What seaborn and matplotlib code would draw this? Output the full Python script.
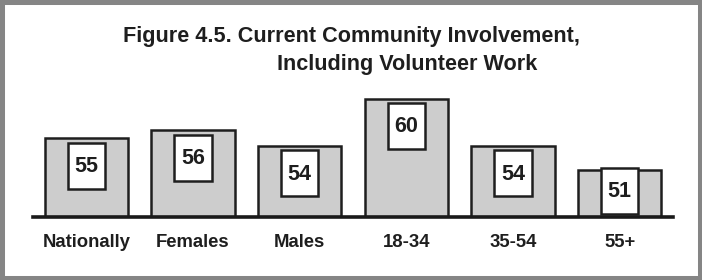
import matplotlib
matplotlib.use("Agg")
import matplotlib.pyplot as plt
from matplotlib.patches import Rectangle
import seaborn as sns

# Data
categories = ["Nationally", "Females", "Males", "18-34", "35-54", "55+"]
values = [55, 56, 54, 60, 54, 51]

TITLE_1 = "Figure 4.5. Current Community Involvement,"
TITLE_2 = "Including Volunteer Work"

DARK = "#1e1e1e"
BAR_FILL = "#cdcdcd"
BORDER = "#858585"

sns.set_style("white")
plt.rcParams["font.family"] = ["Liberation Sans", "DejaVu Sans"]

fig = plt.figure(figsize=(7.02, 2.80), dpi=100)
# axes placed in pixels: left 33, right 673, baseline at y=217, top at y=90
W, H = 702, 280
ax = fig.add_axes([33 / W, (H - 217) / H, 640 / W, 127 / H])

sns.barplot(x=categories, y=values, ax=ax, color=BAR_FILL, width=0.78,
            edgecolor=DARK, linewidth=1.8, saturation=1)

y_low = 45
px_per_unit = 7.9
ax.set_ylim(y_low, y_low + 127 / px_per_unit)
ax.set_xlim(-0.5, 5.5)

# white value boxes inside the bars
box_w = 37 / 106.5
box_h = 46 / px_per_unit
gap = 4.5 / px_per_unit
min_bottom = y_low + 3 / px_per_unit
for i, v in enumerate(values):
    bottom = max(v - gap - box_h, min_bottom)
    ax.add_patch(Rectangle((i - box_w / 2, bottom), box_w, box_h,
                           facecolor="white", edgecolor=DARK, linewidth=1.8,
                           zorder=5))
    ax.text(i, bottom + box_h / 2 - 0.1, str(v), ha="center", va="center",
            fontsize=15.5, fontweight="bold", color=DARK, zorder=6)

for side in ["top", "left", "right"]:
    ax.spines[side].set_visible(False)
ax.spines["bottom"].set_linewidth(2.6)
ax.spines["bottom"].set_color("#1a1a1a")
ax.set_yticks([])
ax.set_xlabel("")
ax.set_ylabel("")
ax.tick_params(axis="x", length=0, pad=12, labelsize=13.3, labelcolor=DARK)
for lbl in ax.get_xticklabels():
    lbl.set_fontweight("bold")

# title (two lines, second line offset to the right)
fig.text(351 / W, 1 - 42 / H, TITLE_1, ha="center", va="baseline",
         fontsize=15.6, fontweight="bold", color=DARK)
fig.text(407 / W, 1 - 70 / H, TITLE_2, ha="center", va="baseline",
         fontsize=15.6, fontweight="bold", color=DARK)

# gray frame round the figure
fig.patches.append(Rectangle((0, 0), 1, 1, transform=fig.transFigure,
                             fill=False, edgecolor=BORDER, linewidth=6.5,
                             zorder=10))

fig.savefig("out.png", dpi=100)
